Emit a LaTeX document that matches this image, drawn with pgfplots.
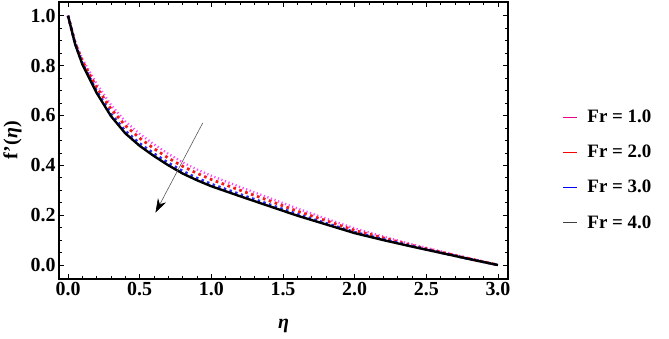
\documentclass[border=0pt]{standalone}
\usepackage{pgfplots}
\pgfplotsset{compat=1.18}
\usepackage{fontspec}
\setmainfont{Liberation Serif}
\usetikzlibrary{arrows.meta}
\definecolor{frmag}{RGB}{255,70,255}
\definecolor{frred}{RGB}{245,25,25}
\definecolor{frblue}{RGB}{40,40,255}

\begin{document}
\begin{tikzpicture}
\begin{axis}[
    name=ax,
    scale only axis,
    width=449bp, height=277bp,
    xmin=-0.063, xmax=3.07,
    ymin=-0.056, ymax=1.055,
    xtick={0,0.5,...,3}, ytick={0,0.2,...,1},
    minor x tick num=4, minor y tick num=3,
    xticklabel style={/pgf/number format/.cd, fixed, fixed zerofill, precision=1},
    yticklabel style={/pgf/number format/.cd, fixed, fixed zerofill, precision=1},
    /pgf/number format/assume math mode=true,
    ticklabel style={font=\bfseries\fontsize{20}{20}\selectfont},
    tick style={black, line width=0.6pt},
    major tick length=5bp, minor tick length=3bp,
    axis line style={line width=1.3pt},
    xlabel={\textbf{\textit{η}}},
    ylabel={\textbf{f'(\textit{η})}},
    label style={font=\fontsize{20}{20}\selectfont},
    xlabel style={yshift=-16bp},
    ylabel style={yshift=2bp},
    legend style={at={(rel axis cs:1.12,0.394)}, anchor=west, draw=none,
        font=\bfseries\fontsize{19}{19}\selectfont, row sep=17bp,
        inner sep=0pt},
    legend cell align=left,
    legend image code/.code={\draw[#1] (0bp,0bp) -- (14bp,0bp); \path (22bp,0bp);},
    legend entries={Fr = 1.0, Fr = 2.0, Fr = 3.0, Fr = 4.0},
]
\addlegendimage{color=magenta, line width=1.4pt}
\addlegendimage{color=red, line width=1.4pt}
\addlegendimage{color=blue, line width=1.4pt}
\addlegendimage{color=black!75, line width=1.4pt}
\addplot[forget plot, color=frmag, line width=2.4pt, dash pattern=on 1.2pt off 2.6pt] coordinates {
(0,1.0) (0.05,0.895) (0.1,0.826) (0.2,0.726) (0.3,0.642) (0.4,0.576) (0.5,0.526)
(0.6,0.484) (0.7,0.446) (0.8,0.412) (0.9,0.383) (1.0,0.358) (1.2,0.313)
(1.4,0.27) (1.6,0.227) (1.8,0.186) (2.0,0.147) (2.2,0.114) (2.4,0.083)
(2.6,0.055) (2.8,0.027) (3.0,0.0)};
\addplot[forget plot, color=frred, line width=2.8pt, dash pattern=on 2.7pt off 3.6pt] coordinates {
(0,1.0) (0.05,0.891) (0.1,0.818) (0.2,0.713) (0.3,0.626) (0.4,0.559) (0.5,0.509)
(0.6,0.467) (0.7,0.429) (0.8,0.396) (0.9,0.368) (1.0,0.343) (1.2,0.3)
(1.4,0.259) (1.6,0.216) (1.8,0.178) (2.0,0.139) (2.2,0.109) (2.4,0.079)
(2.6,0.052) (2.8,0.0256) (3.0,0.0)};
\addplot[forget plot, color=frblue, line width=2.6pt, dash pattern=on 2.5pt off 3.5pt] coordinates {
(0,1.0) (0.05,0.887) (0.1,0.809) (0.2,0.6975) (0.3,0.6065) (0.4,0.538) (0.5,0.488)
(0.6,0.447) (0.7,0.41) (0.8,0.377) (0.9,0.349) (1.0,0.325) (1.2,0.284)
(1.4,0.244) (1.6,0.204) (1.8,0.168) (2.0,0.132) (2.2,0.103) (2.4,0.076)
(2.6,0.05) (2.8,0.024) (3.0,0.0)};
\addplot[forget plot, color=black, line width=2.4pt] coordinates {
(0,1.0) (0.05,0.885) (0.1,0.805) (0.2,0.69) (0.3,0.597) (0.4,0.528) (0.5,0.478)
(0.6,0.437) (0.7,0.40) (0.8,0.367) (0.9,0.34) (1.0,0.316) (1.2,0.276)
(1.4,0.237) (1.6,0.198) (1.8,0.163) (2.0,0.128) (2.2,0.1) (2.4,0.074)
(2.6,0.049) (2.8,0.024) (3.0,0.0)};
\draw[gray!70!black, line width=0.6pt, -{Stealth[length=14bp, width=9bp, black]}]
    (axis cs:0.94,0.57) -- (axis cs:0.61,0.21);
\end{axis}
\pgfresetboundingbox
\path ([xshift=-59bp,yshift=-60bp]ax.south west) rectangle ([xshift=161bp,yshift=2bp]ax.north east);
\end{tikzpicture}
\end{document}
